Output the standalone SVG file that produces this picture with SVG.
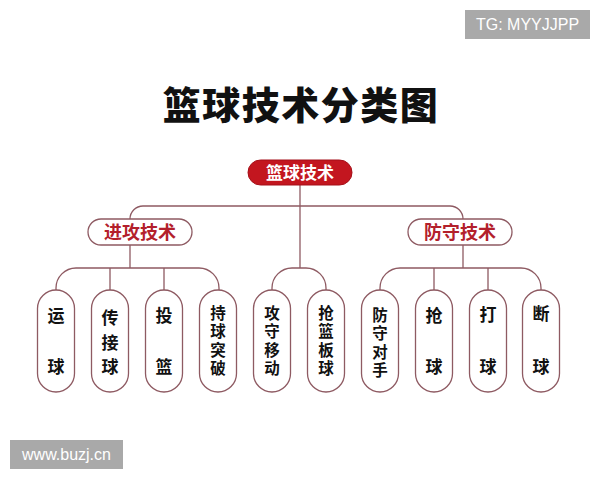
<svg xmlns="http://www.w3.org/2000/svg" width="600" height="480" viewBox="0 0 600 480">
<style>
.cjk{font-family:"Noto Sans CJK SC","Noto Sans",sans-serif;font-weight:700;text-anchor:middle}
.title{font-size:38px;font-weight:900;fill:#111;letter-spacing:1.5px}
.root-t{font-size:17px;fill:#fff}
.sub-t{font-size:18px;fill:#b3202b}
.leaf-t{font-size:17px;fill:#111}
.leaf-t4{font-size:15.5px;fill:#111}
.pill{fill:#fff;stroke:#8e5a62;stroke-width:1.3}
.conn path{fill:none;stroke:#8e5a62;stroke-width:1.3}
.wm{fill:#a9a9a9}
.wm-t{font-family:"Liberation Sans",Arial,sans-serif;font-size:16px;fill:#fff}
</style>
<rect width="600" height="480" fill="#fff"/>
<g id="wm-top"><rect class="wm" x="465" y="10" width="125" height="29"/><text class="wm-t" x="527.5" y="30" text-anchor="middle">TG: MYYJJPP</text></g>
<g id="wm-bottom"><rect class="wm" x="10" y="440" width="113" height="29"/><text class="wm-t" x="66.5" y="460" text-anchor="middle">www.buzj.cn</text></g>
<text class="cjk title" x="301" y="119">篮球技术分类图</text>
<g class="conn" id="connectors">
<path d="M300 185 V268"/>
<path d="M130 219 A13 13 0 0 1 143 206 H450 A13 13 0 0 1 463 219"/>
<path d="M130 245 V268"/>
<path d="M463 245 V268"/>
<path d="M56 290 V288 A20 20 0 0 1 76 268 H199 A20 20 0 0 1 219 288 V290"/>
<path d="M110 268 V290 M164 268 V290"/>
<path d="M272 290 V288 A20 20 0 0 1 292 268 H306 A20 20 0 0 1 326 288 V290"/>
<path d="M380 290 V288 A20 20 0 0 1 400 268 H521 A20 20 0 0 1 541 288 V290"/>
<path d="M434 268 V290 M488 268 V290"/>
</g>
<g id="root"><rect x="248" y="160" width="104" height="25" rx="12.5" fill="#c3161f" stroke="#a50f18" stroke-width="1"/><text class="cjk root-t" x="300" y="179">篮球技术</text></g>
<g id="attack"><rect class="pill" x="88" y="219" width="104" height="26" rx="13"/><text class="cjk sub-t" x="140" y="238.5">进攻技术</text></g>
<g id="defense"><rect class="pill" x="408" y="219" width="104" height="26" rx="13"/><text class="cjk sub-t" x="460" y="238.5">防守技术</text></g>
<g id="leaf1"><rect class="pill" x="37.5" y="290" width="37" height="102" rx="18.5"/><text class="cjk leaf-t" x="56"><tspan x="56" y="322">运</tspan><tspan x="56" y="373">球</tspan></text></g>
<g id="leaf2"><rect class="pill" x="91.5" y="290" width="37" height="102" rx="18.5"/><text class="cjk leaf-t" x="110"><tspan x="110" y="324">传</tspan><tspan x="110" y="349">接</tspan><tspan x="110" y="373">球</tspan></text></g>
<g id="leaf3"><rect class="pill" x="145.5" y="290" width="37" height="102" rx="18.5"/><text class="cjk leaf-t" x="164"><tspan x="164" y="322">投</tspan><tspan x="164" y="373">篮</tspan></text></g>
<g id="leaf4"><rect class="pill" x="199.5" y="290" width="37" height="102" rx="18.5"/><text class="cjk leaf-t4" x="218"><tspan x="218" y="318.5">持</tspan><tspan x="218" y="337">球</tspan><tspan x="218" y="355.5">突</tspan><tspan x="218" y="374">破</tspan></text></g>
<g id="leaf5"><rect class="pill" x="253.5" y="290" width="37" height="102" rx="18.5"/><text class="cjk leaf-t4" x="272"><tspan x="272" y="318.5">攻</tspan><tspan x="272" y="337">守</tspan><tspan x="272" y="355.5">移</tspan><tspan x="272" y="374">动</tspan></text></g>
<g id="leaf6"><rect class="pill" x="307.5" y="290" width="37" height="102" rx="18.5"/><text class="cjk leaf-t4" x="326"><tspan x="326" y="318.5">抢</tspan><tspan x="326" y="337">篮</tspan><tspan x="326" y="355.5">板</tspan><tspan x="326" y="374">球</tspan></text></g>
<g id="leaf7"><rect class="pill" x="361.5" y="290" width="37" height="102" rx="18.5"/><text class="cjk leaf-t4" x="380"><tspan x="380" y="320.5">防</tspan><tspan x="380" y="339">守</tspan><tspan x="380" y="357.5">对</tspan><tspan x="380" y="376">手</tspan></text></g>
<g id="leaf8"><rect class="pill" x="415.5" y="290" width="37" height="102" rx="18.5"/><text class="cjk leaf-t" x="434"><tspan x="434" y="322">抢</tspan><tspan x="434" y="373">球</tspan></text></g>
<g id="leaf9"><rect class="pill" x="469.5" y="290" width="37" height="102" rx="18.5"/><text class="cjk leaf-t" x="488"><tspan x="488" y="321">打</tspan><tspan x="488" y="373">球</tspan></text></g>
<g id="leaf10"><rect class="pill" x="522.5" y="290" width="37" height="102" rx="18.5"/><text class="cjk leaf-t" x="541"><tspan x="541" y="320">断</tspan><tspan x="541" y="373">球</tspan></text></g>
</svg>
